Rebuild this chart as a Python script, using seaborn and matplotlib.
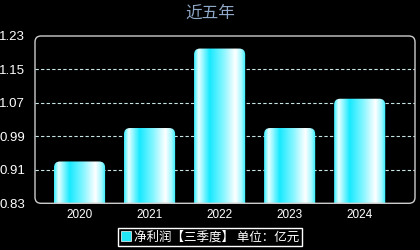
import numpy as np
import pandas as pd
import matplotlib
matplotlib.use("Agg")
import matplotlib.pyplot as plt
import seaborn as sns
from matplotlib.patches import FancyBboxPatch, Patch
from matplotlib.colors import LinearSegmentedColormap

years = ["2020", "2021", "2022", "2023", "2024"]
values = [0.93, 1.01, 1.20, 1.01, 1.08]
yticks = [0.83, 0.91, 0.99, 1.07, 1.15, 1.23]
title = "近五年"
legend_label = "净利润【三季度】 单位：亿元"

sns.set_theme(style="dark")
plt.rcParams["font.family"] = ["Noto Sans CJK SC", "DejaVu Sans"]

df = pd.DataFrame({"year": years, "value": values})

fig = plt.figure(figsize=(4.2, 2.5), dpi=100, facecolor="black")
ax = fig.add_axes([35 / 420, 46.7 / 250, 380 / 420, 167.3 / 250])
ax.set_facecolor("black")

sns.barplot(data=df, x="year", y="value", ax=ax, width=0.73,
            color="#22eeff", saturation=1)

cmap = LinearSegmentedColormap.from_list(
    "bar", [(0.0, "#33eeff"), (0.09, "#e6ffff"), (0.3, "#18eaff"),
            (0.55, "#7ff5ff"), (0.8, "#ffffff"), (0.92, "#a0f8ff"),
            (1.0, "#22eeff")])
grad = np.linspace(0, 1, 256).reshape(1, -1)

rx = 6 / 70.0
ry = 6 / (167.3 / 0.4)
for p in list(ax.patches):
    x0, w, h = p.get_x(), p.get_width(), p.get_height()
    p.set_visible(False)
    clip = FancyBboxPatch((x0, 0), w, h,
                          boxstyle=f"round,pad=0,rounding_size={rx}",
                          mutation_aspect=ry / rx,
                          facecolor="none", edgecolor="none", zorder=3)
    ax.add_patch(clip)
    im = ax.imshow(grad, cmap=cmap, aspect="auto",
                   extent=(x0, x0 + w, 0, h), zorder=3,
                   interpolation="bilinear")
    im.set_clip_path(clip)

ax.set_xlim(-0.636, 4.79)
ax.set_ylim(0.83, 1.23)
ax.set_aspect("auto")

for yv in yticks[1:-1]:
    ax.axhline(yv, color="#c8e6e6", lw=0.8, ls=(0, (3, 2)), zorder=1)

ax.set_yticks(yticks)
ax.set_yticklabels([f"{v:.2f}" for v in yticks])
ax.tick_params(axis="both", colors="white", length=0, pad=7)
ax.tick_params(axis="x", pad=4)
for lab in ax.get_xticklabels() + ax.get_yticklabels():
    lab.set_family(["Liberation Sans", "DejaVu Sans"])
    lab.set_fontsize(8.5)
for lab in ax.get_yticklabels():
    lab.set_fontsize(9.5)
ax.set_xlabel("")
ax.set_ylabel("")
ax.grid(False)
for s in ax.spines.values():
    s.set_visible(False)

frame = FancyBboxPatch((35, 46.7), 380, 167.3,
                       boxstyle="round,pad=0,rounding_size=6",
                       transform=None, facecolor="none",
                       edgecolor="#cccccc", lw=1.0, zorder=5)
fig.patches.append(frame)

fig.text(0.5, 1 - 13 / 250, title, color="#8fa8c8", fontsize=12,
         ha="center", va="center")

handle = Patch(facecolor="#22e6f5", edgecolor="white", lw=0.5)
leg = fig.legend([handle], [legend_label], loc="center",
                 bbox_to_anchor=(210 / 420, 1 - 237 / 250),
                 frameon=True, fancybox=False, shadow=True,
                 facecolor="black", edgecolor="white",
                 labelcolor="white", fontsize=9,
                 handlelength=0.8, handleheight=0.8, handletextpad=0.3,
                 borderpad=0.2, borderaxespad=0)
leg.get_frame().set_linewidth(1.0)

fig.savefig("out.png", dpi=100, facecolor="black")
